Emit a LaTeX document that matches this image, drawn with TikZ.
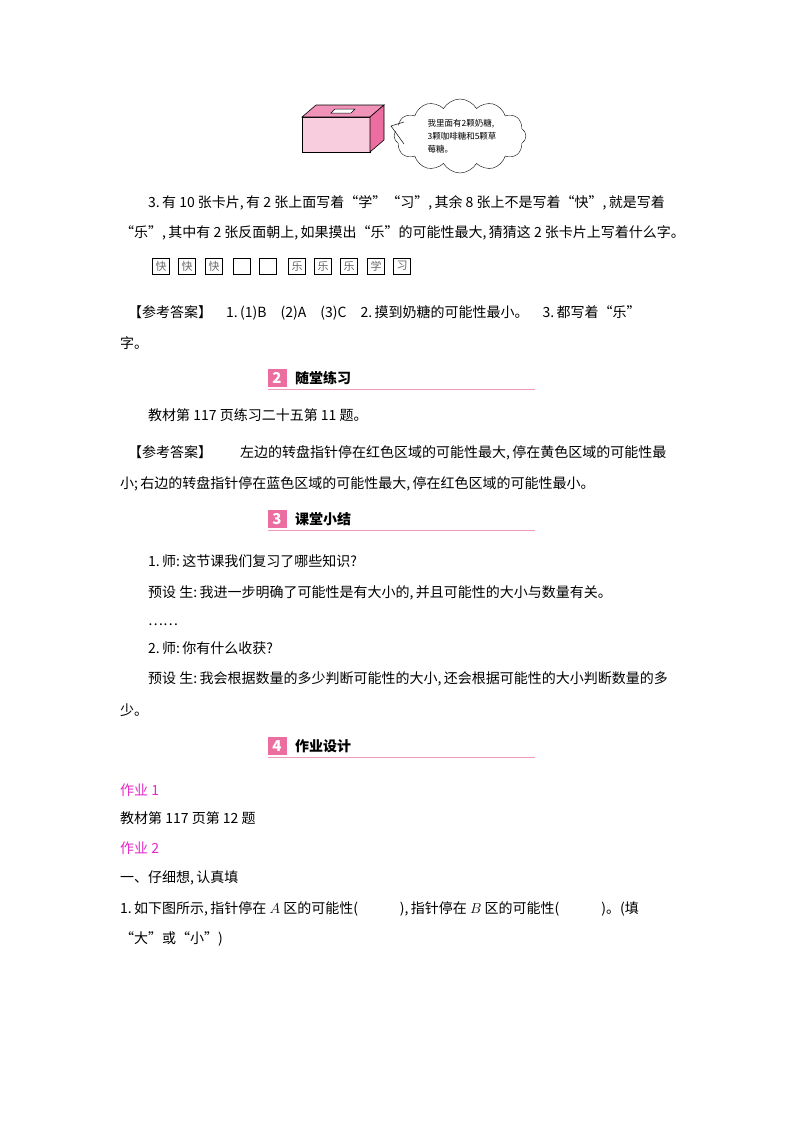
\documentclass[tikz,border=0pt]{standalone}
\usepackage{fontspec}
\setmainfont{Noto Sans CJK SC}
\usetikzlibrary{shapes.symbols}
\definecolor{pk}{RGB}{236,110,160}
\definecolor{pkl}{RGB}{248,205,222}
\definecolor{mg}{RGB}{230,40,200}
\begin{document}
\begin{tikzpicture}[x=1pt,y=-1pt,
 tx/.style={anchor=base west,inner sep=0pt,font=\fontsize{14}{15}\selectfont},
 card/.style={draw,line width=0.9pt,minimum width=17pt,minimum height=16pt,inner sep=0pt,font=\fontsize{11}{12}\selectfont,text=black!60},
 hnum/.style={fill=pk,minimum width=19pt,minimum height=18pt,inner sep=0pt,text=white,font=\bfseries\itshape\fontsize{15}{16}\selectfont},
 htitle/.style={anchor=base west,inner sep=0pt,font=\bfseries\fontsize{14}{15}\selectfont},
 hline/.style={pk!70,line width=0.8pt},
 mgt/.style={tx,text=mg}]
\useasboundingbox (0,0) rectangle (800,1132);
% box
\fill[pkl,draw=black,line width=0.6pt] (302,117) rectangle (370,152);
\fill[pk!75,draw=black,line width=0.6pt] (302,117) -- (316,105) -- (384,105) -- (370,117) -- cycle;
\fill[pk,draw=black,line width=0.6pt] (370,117) -- (384,105) -- (384,140) -- (370,152) -- cycle;
\draw[fill=white,line width=0.5pt] (331,113) -- (335,109) -- (355,109) -- (351,113) -- cycle;
% cloud
\node[cloud,draw,cloud puffs=12,cloud puff arc=120,aspect=1.8,minimum width=132pt,minimum height=74pt,inner sep=0pt,fill=white] (cl) at (460,136) {};
\coordinate (tip) at (391,126);
\fill[white] (403,125) -- (tip) -- (405,142) -- cycle;
\draw[line width=0.5pt] (404,122) -- (tip) -- (404,144);
\node[align=left,font=\fontsize{8.5}{13}\selectfont,inner sep=0pt] (ct) at (462,136) {我里面有2颗奶糖,\\3颗咖啡糖和5颗草\\莓糖。};
% problem 3
\node[tx] (p3a) at (148,207) {3.\,有 10 张卡片,\,有 2 张上面写着“学”“习”,\,其余 8 张上不是写着“快”,\,就是写着};
\node[tx] (p3b) at (120,237) {“乐”,\,其中有 2 张反面朝上,\,如果摸出“乐”的可能性最大,\,猜猜这 2 张卡片上写着什么字。};
\foreach \x/\t [count=\i] in {161/快,187/快,214/快,242/{},268/{},297/乐,323/乐,349/乐,376/学,402/习}
  \node[card] (c\i) at (\x,266) {\t};
\node[tx] (a1) at (128,317) {【参考答案】\quad 1.\,(1)B\quad (2)A\quad (3)C\quad 2.\,摸到奶糖的可能性最小。\quad 3.\,都写着“乐”};
\node[tx] (a1b) at (120,348) {字。};
% header 2
\node[hnum] (h2) at (277,378) {2};
\node[htitle] (h2t) at (295,383) {随堂练习};
\draw[hline] (268,389) -- (535,389);
\node[tx] (b1) at (148,420) {教材第 117 页练习二十五第 11 题。};
\node[tx] (b2) at (128,457) {【参考答案】\qquad 左边的转盘指针停在红色区域的可能性最大,\,停在黄色区域的可能性最};
\node[tx] (b3) at (120,488) {小;\,右边的转盘指针停在蓝色区域的可能性最大,\,停在红色区域的可能性最小。};
% header 3
\node[hnum] (h3) at (277,519) {3};
\node[htitle] (h3t) at (295,524) {课堂小结};
\draw[hline] (268,530) -- (535,530);
\node[tx] (s1) at (148,566) {1.\,师:\,这节课我们复习了哪些知识?};
\node[tx] (s2) at (148,597) {预设\ 生:\,我进一步明确了可能性是有大小的,\,并且可能性的大小与数量有关。};
\node[tx] (s3) at (148,625) {……};
\node[tx] (s4) at (148,653) {2.\,师:\,你有什么收获?};
\node[tx] (s5) at (148,683) {预设\ 生:\,我会根据数量的多少判断可能性的大小,\,还会根据可能性的大小判断数量的多};
\node[tx] (s6) at (120,715) {少。};
% header 4
\node[hnum] (h4) at (277,746) {4};
\node[htitle] (h4t) at (295,751) {作业设计};
\draw[hline] (268,757) -- (535,757);
\node[mgt] (w1) at (120,795) {作业 1};
\node[tx] (w2) at (120,823) {教材第 117 页第 12 题};
\node[mgt] (w3) at (120,853) {作业 2};
\node[tx] (w4) at (120,882) {一、仔细想,\,认真填};
\node[tx] (w5) at (120,913) {1.\,如下图所示,\,指针停在 $A$ 区的可能性(\qquad\quad ),\,指针停在 $B$ 区的可能性(\qquad\quad )。(填};
\node[tx] (w6) at (120,943) {“大”或“小”)};
\end{tikzpicture}
\end{document}
